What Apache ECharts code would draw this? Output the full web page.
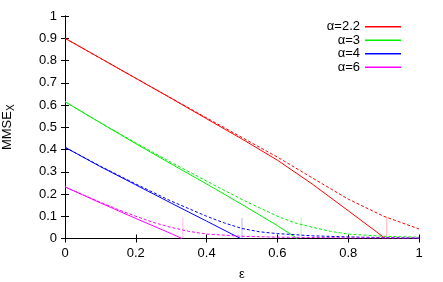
<!DOCTYPE html>
<html><head><meta charset="utf-8">
<script src="https://cdn.jsdelivr.net/npm/echarts@6/dist/echarts.min.js"></script>
<style>html,body{margin:0;padding:0;background:#fff}#c{width:443px;height:282px}</style>
</head><body><div id="c"></div>
<script>
// ---- data ----
const seriesNames = ['α=2.2', 'α=3', 'α=4', 'α=6'];

const redSolidX   = [0, 0.1, 0.2, 0.3, 0.4, 0.5, 0.6, 0.7, 0.8, 0.9, 0.906];
const redSolidY   = [0.9, 0.81, 0.72, 0.63, 0.538, 0.447, 0.352, 0.243, 0.125, 0.006, 0];
const redDashX    = [0, 0.1, 0.2, 0.3, 0.4, 0.5, 0.6, 0.7, 0.8, 0.9, 1];
const redDashY    = [0.9, 0.81, 0.72, 0.631, 0.542, 0.454, 0.366, 0.271, 0.177, 0.1, 0.043];

const greenSolidX = [0, 0.1, 0.2, 0.3, 0.4, 0.5, 0.6, 0.656];
const greenSolidY = [0.615, 0.52, 0.426, 0.335, 0.245, 0.153, 0.058, 0];
const greenDashX  = [0, 0.1, 0.2, 0.3, 0.4, 0.5, 0.6, 0.65, 0.7, 0.75, 0.8, 0.9, 1];
const greenDashY  = [0.615, 0.52, 0.43, 0.342, 0.258, 0.175, 0.1, 0.07, 0.05, 0.032, 0.02, 0.01, 0.006];

const blueSolidX  = [0, 0.1, 0.2, 0.3, 0.4, 0.496];
const blueSolidY  = [0.41, 0.323, 0.241, 0.159, 0.078, 0];
const blueDashX   = [0, 0.1, 0.2, 0.3, 0.4, 0.45, 0.5, 0.55, 0.6, 0.7, 0.8, 0.9, 1];
const blueDashY   = [0.41, 0.325, 0.245, 0.168, 0.1, 0.07, 0.045, 0.03, 0.022, 0.012, 0.007, 0.004, 0.002];

const magSolidX   = [0, 0.05, 0.1, 0.15, 0.2, 0.25, 0.3, 0.33];
const magSolidY   = [0.232, 0.196, 0.16, 0.125, 0.09, 0.056, 0.022, 0];
const magDashX    = [0, 0.05, 0.1, 0.15, 0.2, 0.25, 0.3, 0.35, 0.4, 0.5, 0.6, 0.8, 1];
const magDashY    = [0.232, 0.197, 0.163, 0.13, 0.1, 0.072, 0.05, 0.032, 0.02, 0.01, 0.006, 0.003, 0.002];

const thresholdX  = [0.909, 0.667, 0.5, 0.333];
const thresholdH  = [0.098, 0.098, 0.092, 0.093];

const xTicks = [0, 0.2, 0.4, 0.6, 0.8, 1];
const yTicks = [0, 0.1, 0.2, 0.3, 0.4, 0.5, 0.6, 0.7, 0.8, 0.9, 1];

// ---- build ----
const colors = ['#ff0000', '#00ee00', '#0000ff', '#ff00ff'];
const solids = [[redSolidX, redSolidY], [greenSolidX, greenSolidY], [blueSolidX, blueSolidY], [magSolidX, magSolidY]];
const dashes = [[redDashX, redDashY], [greenDashX, greenDashY], [blueDashX, blueDashY], [magDashX, magDashY]];
const zip = (xs, ys) => xs.map((x, i) => [x, ys[i]]);
const FONT = 'Liberation Sans, Arial, sans-serif';

const series = [];
seriesNames.forEach((n, i) => {
  series.push({
    name: n, type: 'line', data: zip(solids[i][0], solids[i][1]), color: colors[i],
    showSymbol: false, symbol: 'none', smooth: false,
    lineStyle: { width: 1, color: colors[i] }, silent: true, z: 3
  });
  series.push({
    name: n + ' (dashed)', type: 'line', data: zip(dashes[i][0], dashes[i][1]), color: colors[i],
    showSymbol: false, symbol: 'none', smooth: false,
    lineStyle: { width: 1, color: colors[i], type: [3, 2] }, silent: true, z: 3
  });
  series.push({
    name: n + ' (threshold)', type: 'line', data: [[thresholdX[i], 0], [thresholdX[i], thresholdH[i]]],
    showSymbol: false, symbol: 'none', color: colors[i],
    lineStyle: { width: 1, color: colors[i], type: [1, 1], opacity: 0.6 }, silent: true, z: 2
  });
});

const axisCommon = {
  type: 'value', min: 0, max: 1,
  axisLine: { show: true, lineStyle: { color: '#000', width: 1 } },
  axisTick: { show: true, inside: true, length: 4, lineStyle: { color: '#000' } },
  splitLine: { show: false },
};

const chart = echarts.init(document.getElementById('c'), null, { renderer: 'canvas' });
chart.setOption({
  animation: false,
  backgroundColor: '#fff',
  textStyle: { fontFamily: FONT },
  grid: { left: 65, right: 24, top: 16, bottom: 43.5, containLabel: false, outerBoundsMode: 'none' },
  legend: {
    data: seriesNames, orient: 'vertical', right: 37, top: 15, align: 'right',
    icon: 'rect', itemWidth: 36, itemHeight: 1.5, itemGap: 0,
    textStyle: { fontSize: 13, color: '#000', fontFamily: FONT, lineHeight: 13.5 },
    selectedMode: false
  },
  xAxis: [
    Object.assign({}, axisCommon, {
      position: 'bottom', interval: 0.2,
      axisLabel: { show: true, fontSize: 13, color: '#000', margin: 8, fontFamily: FONT,
        formatter: v => { const t = xTicks.find(k => Math.abs(k - v) < 1e-9); return t === undefined ? '' : String(t); } },
      name: 'ε', nameLocation: 'middle', nameGap: 29,
      nameTextStyle: { fontSize: 13, color: '#000', fontFamily: FONT }
    }),
    Object.assign({}, axisCommon, { position: 'top', interval: 0.2, axisLabel: { show: false } })
  ],
  yAxis: [
    Object.assign({}, axisCommon, {
      position: 'left', interval: 0.1,
      axisLabel: { show: true, fontSize: 13, color: '#000', margin: 8, fontFamily: FONT,
        formatter: v => { const t = yTicks.find(k => Math.abs(k - v) < 1e-9); return t === undefined ? '' : String(t); } },
      name: 'MMSE{s|X}', nameLocation: 'middle', nameGap: 49, nameRotate: 90,
      nameTextStyle: { fontSize: 13, color: '#000', fontFamily: FONT,
        rich: { s: { fontSize: 10, color: '#000', fontFamily: FONT, padding: [7, 0, 0, 0] } } }
    }),
    Object.assign({}, axisCommon, { position: 'right', interval: 0.1, axisLabel: { show: false } })
  ],
  series: series
});
</script></body></html>
